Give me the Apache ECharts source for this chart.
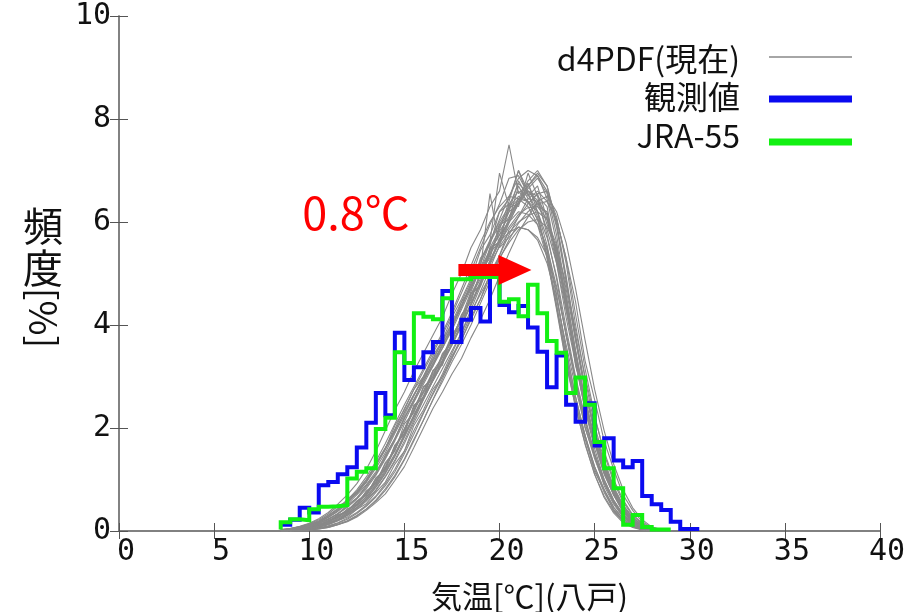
<!DOCTYPE html>
<html>
<head>
<meta charset="utf-8">
<script src="https://cdn.jsdelivr.net/npm/echarts/dist/echarts.min.js"></script>
<style>
  html, body { margin: 0; padding: 0; background: #ffffff; }
  #chart { width: 906px; height: 612px; }
</style>
</head>
<body>
<div id="chart"></div>
<script>
// ---- data -------------------------------------------------------------
// d4PDF ensemble members: frequency [%] per 0.5 degC bin
const ensTemps = [8.5,9,9.5,10,10.5,11,11.5,12,12.5,13,13.5,14,14.5,15,15.5,16,16.5,17,17.5,18,18.5,19,19.5,20,20.5,21,21.5,22,22.5,23,23.5,24,24.5,25,25.5,26,26.5,27,27.5,28,28.5,29];

const ens01 = [0.02,0.04,0.07,0.12,0.18,0.3,0.42,0.55,0.75,0.95,1.3,1.6,2.05,2.35,2.75,3.0,3.4,3.7,4.15,4.5,4.9,5.45,5.75,6.2,6.35,6.6,6.4,6.05,5.45,4.35,3.4,2.45,1.85,1.15,0.8,0.4,0.2,0.09,0.03,0.01,0,0];
const ens02 = [0,0.01,0.02,0.05,0.07,0.13,0.2,0.27,0.42,0.53,0.75,0.95,1.3,1.55,2.05,2.35,2.75,3.0,3.4,3.7,4.15,4.5,5.0,5.35,5.85,6.1,6.45,6.6,6.4,6.05,5.3,4.45,3.3,2.55,1.75,1.2,0.7,0.4,0.18,0.07,0.02,0];
const ens03 = [0,0.01,0.03,0.05,0.1,0.15,0.22,0.33,0.45,0.62,0.85,1.12,1.45,1.85,2.25,2.6,2.95,3.3,3.75,4.15,4.65,5.1,5.6,6.05,6.5,6.85,7.0,6.9,6.45,5.6,4.45,3.3,2.35,1.6,1.0,0.6,0.3,0.13,0.05,0.02,0,0];
const ens04 = [0,0.01,0.02,0.04,0.08,0.12,0.2,0.3,0.42,0.58,0.78,1.05,1.35,1.7,2.1,2.45,2.8,3.15,3.5,3.85,4.25,4.6,4.95,5.3,5.6,5.85,6.0,6.05,5.9,5.5,4.8,3.9,3.0,2.2,1.55,1.0,0.6,0.32,0.15,0.06,0.02,0];
const ens05 = [0.03,0.05,0.09,0.15,0.24,0.36,0.52,0.7,0.92,1.2,1.55,1.95,2.35,2.7,3.1,3.45,3.8,4.15,4.6,5.0,5.5,5.85,6.3,6.6,7.5,6.55,6.75,6.2,5.3,4.3,3.25,2.4,1.7,1.1,0.65,0.35,0.16,0.07,0.02,0,0,0];
const ens06 = [0,0,0.01,0.02,0.04,0.07,0.12,0.18,0.27,0.4,0.55,0.72,0.98,1.25,1.62,2.0,2.38,2.7,3.05,3.35,3.75,4.1,4.5,4.95,5.4,5.8,6.1,6.4,6.5,6.2,5.6,4.7,3.7,2.75,1.95,1.3,0.8,0.45,0.22,0.08,0.03,0.01];
const ens07 = [0.01,0.03,0.04,0.08,0.1,0.2,0.26,0.43,0.5,0.78,0.92,1.33,1.55,2.08,2.3,2.8,2.95,3.45,3.65,4.2,4.45,5.05,5.3,5.95,6.05,6.7,6.35,6.55,5.95,5.5,4.3,3.45,2.4,1.85,1.15,0.78,0.38,0.22,0.07,0.03,0,0];
const ens08 = [0,0.01,0.03,0.06,0.1,0.16,0.25,0.36,0.5,0.66,0.9,1.18,1.5,1.88,2.25,2.62,2.95,3.28,3.62,4.0,4.4,4.82,5.25,5.68,6.05,6.4,6.7,6.9,6.6,5.9,4.85,3.7,2.7,1.9,1.25,0.78,0.44,0.22,0.09,0.03,0.01,0];
const ens09 = [0.02,0.04,0.07,0.11,0.17,0.26,0.38,0.52,0.7,0.9,1.15,1.45,1.8,2.2,2.55,2.9,3.25,3.55,3.9,4.3,4.7,5.1,5.45,5.75,6.0,6.2,6.15,5.95,5.5,4.75,3.8,2.9,2.1,1.45,0.95,0.58,0.32,0.16,0.07,0.02,0,0];
const ens10 = [0,0.02,0.03,0.07,0.13,0.17,0.3,0.38,0.58,0.7,1.02,1.2,1.65,1.9,2.42,2.6,3.1,3.25,3.8,3.95,4.6,4.75,5.5,5.6,6.35,6.3,6.95,6.5,6.3,5.3,4.5,3.2,2.6,1.7,1.25,0.7,0.45,0.18,0.1,0.03,0.01,0];
const ens11 = [0.02,0.03,0.06,0.1,0.16,0.27,0.4,0.62,0.75,1.0,1.3,1.62,1.95,2.3,2.65,2.95,3.3,3.6,4.0,4.35,4.8,5.2,5.6,5.95,6.25,6.45,6.4,6.2,5.7,4.95,3.95,3.0,2.2,1.5,0.95,0.55,0.28,0.12,0.05,0.01,0,0];
const ens12 = [0,0,0.01,0.03,0.05,0.09,0.15,0.23,0.34,0.48,0.66,0.88,1.15,1.5,1.88,2.28,2.68,3.05,3.45,3.85,4.3,4.75,5.2,5.65,6.05,6.45,6.8,7.0,6.7,5.95,4.9,3.75,2.75,1.95,1.3,0.82,0.48,0.25,0.11,0.04,0.01,0];
const ens13 = [0.01,0.02,0.05,0.09,0.14,0.22,0.33,0.46,0.62,0.82,1.08,1.4,1.75,2.12,2.5,2.85,3.2,3.55,3.95,4.35,4.75,5.1,6.55,5.5,5.7,5.9,5.85,5.7,5.35,4.7,3.85,2.95,2.15,1.5,1.0,0.6,0.33,0.16,0.07,0.02,0,0];
const ens14 = [0,0.01,0.04,0.06,0.11,0.2,0.27,0.41,0.52,0.76,0.95,1.3,1.58,1.98,2.35,2.78,3.0,3.42,3.7,4.18,4.5,5.0,5.38,5.9,6.2,6.8,6.45,6.4,5.85,5.2,4.15,3.25,2.35,1.7,1.1,0.7,0.36,0.19,0.07,0.02,0,0];
const ens15 = [0,0,0.01,0.03,0.06,0.1,0.16,0.25,0.36,0.5,0.68,0.92,1.2,1.55,1.95,2.3,2.65,3.0,3.35,3.72,4.1,4.5,4.92,5.35,5.75,6.1,6.35,6.55,6.6,6.1,5.2,4.0,2.95,2.05,1.38,0.86,0.5,0.26,0.12,0.05,0.01,0];
const ens16 = [0.02,0.05,0.08,0.13,0.2,0.3,0.44,0.6,0.8,1.05,1.35,1.7,2.08,2.45,2.8,3.15,3.5,3.85,4.25,4.7,5.15,5.6,6.0,6.3,6.5,6.45,6.3,5.95,5.3,4.4,3.4,2.5,1.78,1.2,0.75,0.42,0.2,0.09,0.03,0.01,0,0];
const ens17 = [0.01,0.02,0.03,0.07,0.12,0.18,0.29,0.39,0.56,0.72,0.99,1.24,1.62,1.97,2.4,2.7,3.05,3.32,3.75,4.08,4.55,4.9,5.45,5.75,6.2,6.35,6.75,6.3,6.2,5.25,4.5,3.3,2.55,1.75,1.25,0.72,0.43,0.19,0.09,0.03,0.01,0];
const ens18 = [0,0.01,0.02,0.04,0.08,0.13,0.21,0.31,0.44,0.6,0.8,1.06,1.38,1.75,2.15,2.55,2.92,3.28,3.65,4.02,4.42,4.85,5.25,5.6,5.9,6.15,6.28,6.3,6.05,5.45,4.55,3.5,2.55,1.78,1.18,0.72,0.4,0.2,0.08,0.03,0.01,0];
const ens19 = [0.01,0.03,0.06,0.09,0.15,0.24,0.33,0.5,0.64,0.88,1.1,1.48,1.78,2.2,2.52,2.95,3.2,3.65,3.92,4.45,4.7,5.3,5.55,6.2,6.45,7.0,6.6,6.5,5.75,4.9,3.8,2.9,2.0,1.45,0.88,0.52,0.27,0.11,0.05,0.01,0,0];
const ens20 = [0,0.02,0.03,0.06,0.11,0.18,0.27,0.38,0.53,0.7,0.93,1.22,1.58,1.95,2.33,2.68,3.0,3.38,3.7,4.12,4.5,4.98,5.35,5.82,6.1,6.45,6.6,6.42,6.15,5.35,4.42,3.3,2.48,1.78,1.18,0.76,0.41,0.21,0.08,0.03,0.01,0];
const ens21 = [0.01,0.04,0.06,0.11,0.17,0.27,0.39,0.55,0.74,0.97,1.27,1.6,1.98,2.38,2.75,3.1,3.45,3.8,4.2,4.62,5.05,5.5,5.95,6.35,6.85,6.9,6.55,6.1,5.35,4.35,3.3,2.4,1.68,1.1,0.68,0.38,0.18,0.08,0.03,0.01,0,0];
const ens22 = [0,0,0.01,0.02,0.05,0.08,0.13,0.2,0.3,0.43,0.6,0.82,1.08,1.4,1.78,2.15,2.55,2.9,3.28,3.62,4.0,4.42,4.85,5.28,5.65,5.98,6.2,6.35,6.4,6.05,5.3,4.2,3.15,2.25,1.5,0.95,0.56,0.3,0.14,0.05,0.02,0];
const ens23 = [0.01,0.02,0.04,0.08,0.12,0.2,0.3,0.4,0.57,0.74,0.98,1.25,1.63,1.98,2.4,2.72,3.1,3.38,3.8,4.1,4.6,4.95,5.5,5.85,6.4,7.0,6.5,6.7,6.05,5.2,4.3,3.28,2.38,1.7,1.12,0.7,0.38,0.18,0.07,0.02,0,0];
const ens24 = [0.02,0.04,0.07,0.12,0.19,0.29,0.42,0.58,0.77,1.0,1.27,1.58,1.93,2.3,2.65,3.0,3.35,3.68,4.02,4.38,4.75,5.08,5.4,5.62,5.8,5.9,5.85,5.65,5.2,4.5,3.62,2.78,2.02,1.4,0.92,0.56,0.3,0.15,0.06,0.02,0,0];
const ens25 = [0,0.01,0.02,0.05,0.09,0.14,0.22,0.33,0.46,0.63,0.85,1.12,1.45,1.82,2.2,2.56,2.92,3.25,3.6,3.98,4.38,4.8,5.22,5.62,6.0,6.35,6.65,6.85,6.55,5.75,4.6,3.5,2.55,1.8,1.2,0.75,0.42,0.21,0.09,0.03,0.01,0];
const ens26 = [0.03,0.05,0.08,0.14,0.22,0.33,0.48,0.58,0.72,0.95,1.22,1.52,1.9,2.25,2.62,2.98,3.32,3.68,4.05,4.45,4.85,5.25,5.65,6.0,6.3,6.5,6.4,6.05,5.45,4.55,3.5,2.6,1.85,1.25,0.8,0.46,0.23,0.1,0.04,0.01,0,0];
const ens27 = [0,0,0.01,0.02,0.04,0.07,0.12,0.19,0.29,0.42,0.58,0.79,1.05,1.38,1.75,2.15,2.55,2.95,3.35,3.78,4.2,4.65,5.1,5.55,5.98,6.38,6.7,6.95,6.7,6.0,4.95,3.8,2.8,1.98,1.32,0.84,0.5,0.27,0.12,0.05,0.01,0];
const ens28 = [0.01,0.01,0.04,0.06,0.13,0.17,0.31,0.37,0.58,0.69,1.03,1.19,1.67,1.88,2.45,2.58,3.12,3.22,3.82,3.98,4.62,4.78,5.48,5.62,6.28,6.35,6.6,6.35,6.15,5.4,4.35,3.42,2.45,1.82,1.15,0.78,0.39,0.21,0.07,0.03,0,0];
const ens29 = [0,0.01,0.03,0.05,0.09,0.15,0.24,0.35,0.49,0.66,0.88,1.15,1.48,1.85,2.22,2.58,2.92,3.26,3.62,4.0,4.4,4.8,5.18,5.52,5.8,6.0,6.12,6.2,6.05,5.55,4.7,3.7,2.72,1.92,1.28,0.8,0.45,0.23,0.1,0.04,0.01,0];
const ens30 = [0.01,0.03,0.05,0.09,0.15,0.23,0.34,0.47,0.64,0.85,1.12,1.42,1.78,2.18,2.55,2.9,3.25,3.6,3.98,4.38,4.8,5.25,5.62,6.95,6.3,6.75,6.55,6.2,5.55,4.6,3.52,2.6,1.85,1.25,0.8,0.46,0.24,0.1,0.04,0.01,0,0];

const ensembleMembers = [ens01, ens02, ens03, ens04, ens05, ens06, ens07, ens08, ens09, ens10,
                         ens11, ens12, ens13, ens14, ens15, ens16, ens17, ens18, ens19, ens20,
                         ens21, ens22, ens23, ens24, ens25, ens26, ens27, ens28, ens29, ens30];

// Observed (Hachinohe station): left edges of 0.5 degC bins, last entry closes the final bin
const obsEdges = [8.5,9,9.5,10,10.5,11,11.5,12,12.5,13,13.5,14,14.5,15,15.5,16,16.5,17,17.5,18,18.5,19,19.5,20,20.5,21,21.5,22,22.5,23,23.5,24,24.5,25,25.5,26,26.5,27,27.5,28,28.5,29,29.5,30,30.5];
const obsFreq  = [0.12,0.12,0.22,0.45,0.36,0.89,0.95,1.1,1.24,1.62,2.1,2.68,2.25,3.85,2.93,3.18,3.47,3.67,4.66,3.67,4.1,4.33,4.07,4.93,4.39,4.25,4.37,3.95,3.48,2.79,3.41,2.45,2.12,2.48,1.66,1.8,1.37,1.24,1.36,0.68,0.52,0.41,0.18,0.04];

// JRA-55 reanalysis
const jraEdges = [8.5,9,9.5,10,10.5,11,11.5,12,12.5,13,13.5,14,14.5,15,15.5,16,16.5,17,17.5,18,18.5,19,19.5,20,20.5,21,21.5,22,22.5,23,23.5,24,24.5,25,25.5,26,26.5,27,27.5,28,28.5,29];
const jraFreq  = [0.03,0.17,0.23,0.21,0.42,0.47,0.48,0.5,1.02,1.15,1.22,1.98,2.2,3.47,3.26,4.23,4.16,4.11,4.52,4.89,4.89,4.93,4.93,4.93,4.45,4.5,4.17,4.78,4.23,3.69,3.46,2.68,2.98,2.45,1.73,1.22,0.83,0.12,0.31,0.08,0.03];

// shift of the distribution peak, drawn as an arrow with its label
const shiftArrow = { from: 17.84, to: 21.68, level: 5.07, label: '0.8℃' };

const seriesNames = ['d4PDF(現在)', '観測値', 'JRA-55'];
const xAxisTitle = '気温[℃](八戸)';
const yAxisTitle = ['頻', '度', '[%]'];

// ---- styling ----------------------------------------------------------
const GRAY = '#888888', BLUE = '#0a0af0', GREEN = '#12f012', RED = '#ff0000';
const CJK = '"Noto Sans CJK JP", "Noto Sans", sans-serif';
const MONO = '"DejaVu Sans Mono", monospace';

const chart = echarts.init(document.getElementById('chart'), null, { renderer: 'canvas' });

const stepData = (edges, freq) => edges.map((t, i) => [t, freq[Math.min(i, freq.length - 1)]]);

const series = [];
ensembleMembers.forEach((m) => {
  series.push({
    name: seriesNames[0], type: 'line', silent: true, symbol: 'none',
    data: ensTemps.map((t, i) => [t, m[i]]),
    lineStyle: { color: GRAY, width: 1.1 }, z: 2
  });
});
series.push({
  name: seriesNames[1], type: 'line', step: 'start', symbol: 'none', silent: true,
  data: stepData(obsEdges, obsFreq),
  lineStyle: { color: BLUE, width: 4, join: 'miter' }, z: 3
});
series.push({
  name: seriesNames[2], type: 'line', step: 'start', symbol: 'none', silent: true,
  data: stepData(jraEdges, jraFreq),
  lineStyle: { color: GREEN, width: 4, join: 'miter' }, z: 4
});

const axisLineStyle = { color: '#7a7a7a', width: 1.5 };

chart.setOption({
  animation: false,
  backgroundColor: '#ffffff',
  grid: { left: 119, top: 16, width: 761, height: 515, containLabel: false, outerBoundsMode: 'none' },
  xAxis: [{
    type: 'value', min: 0, max: 40, interval: 5,
    axisLine: { lineStyle: axisLineStyle },
    axisTick: { inside: true, length: 8, lineStyle: { color: '#555', width: 1 } },
    splitLine: { show: false },
    axisLabel: { fontFamily: MONO, fontSize: 30, color: '#111', margin: 6, padding: [0, 0, 0, 14] },
    name: xAxisTitle, nameLocation: 'middle', nameGap: 50,
    nameTextStyle: { fontFamily: CJK, fontSize: 31, color: '#111', padding: [0, 0, 0, 60] }
  }, {
    type: 'value', position: 'top', min: 0, max: 40, interval: 5,
    axisLine: { lineStyle: axisLineStyle },
    axisTick: { inside: true, length: 8, lineStyle: { color: '#555', width: 1 } },
    axisLabel: { show: false }, splitLine: { show: false }
  }],
  yAxis: [{
    type: 'value', min: 0, max: 10, interval: 2,
    axisLine: { show: true, lineStyle: axisLineStyle },
    axisTick: { show: true, inside: true, length: 9, lineStyle: { color: '#555', width: 1 } },
    splitLine: { show: false },
    axisLabel: { fontFamily: MONO, fontSize: 30, color: '#111', margin: 8 }
  }, {
    type: 'value', position: 'right', min: 0, max: 10, interval: 2,
    axisLine: { show: true, lineStyle: axisLineStyle },
    axisTick: { show: true, inside: true, length: 9, lineStyle: { color: '#555', width: 1 } },
    axisLabel: { show: false }, splitLine: { show: false }
  }],
  series: series
});

// ---- legend, axis title, arrow annotation -----------------------------
function drawOverlay() {
  const a = chart.convertToPixel({ gridIndex: 0 }, [shiftArrow.from, shiftArrow.level]);
  const b = chart.convertToPixel({ gridIndex: 0 }, [shiftArrow.to, shiftArrow.level]);
  const headLen = 33, shaftHalf = 6, headHalf = 15;
  const baseX = b[0] - headLen;
  const arrowPts = [
    [a[0], a[1] - shaftHalf], [baseX, a[1] - shaftHalf], [baseX, a[1] - headHalf],
    [b[0], b[1]], [baseX, a[1] + headHalf], [baseX, a[1] + shaftHalf], [a[0], a[1] + shaftHalf]
  ];

  const legendRows = [
    { name: seriesNames[0], ty: 59, ly: 57, color: GRAY, w: 1.5 },
    { name: seriesNames[1], ty: 97, ly: 99, color: BLUE, w: 7 },
    { name: seriesNames[2], ty: 136, ly: 142, color: GREEN, w: 7 }
  ];
  const graphics = [];
  legendRows.forEach((r) => {
    graphics.push({
      type: 'text', x: 740, y: r.ty, z: 10,
      style: { text: r.name, font: '32px ' + CJK, fill: '#111', align: 'right', verticalAlign: 'middle' }
    });
    graphics.push({
      type: 'line', z: 10,
      shape: { x1: 769, y1: r.ly, x2: 852, y2: r.ly },
      style: { stroke: r.color, lineWidth: r.w }
    });
  });

  graphics.push({
    type: 'polygon', z: 10, shape: { points: arrowPts }, style: { fill: RED }
  });
  graphics.push({
    type: 'text', x: 356, y: 213, z: 10,
    style: { text: shiftArrow.label, font: '45px ' + CJK, fill: RED, align: 'center', verticalAlign: 'middle' }
  });

  // vertical-writing y-axis title
  graphics.push({ type: 'text', x: 43, y: 226, z: 10,
    style: { text: yAxisTitle[0], font: '40px ' + CJK, fill: '#111', align: 'center', verticalAlign: 'middle' } });
  graphics.push({ type: 'text', x: 43, y: 268, z: 10,
    style: { text: yAxisTitle[1], font: '40px ' + CJK, fill: '#111', align: 'center', verticalAlign: 'middle' } });
  graphics.push({ type: 'text', x: 43, y: 318, rotation: -Math.PI / 2, z: 10,
    style: { text: yAxisTitle[2], font: '38px ' + CJK, fill: '#111', align: 'center', verticalAlign: 'middle' } });

  chart.setOption({ graphic: graphics });
}
drawOverlay();
</script>
</body>
</html>
